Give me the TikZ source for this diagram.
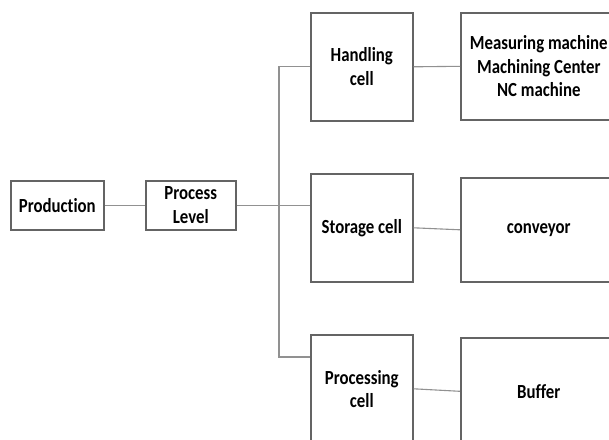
\documentclass[tikz,border=0pt]{standalone}
\usepackage{fontspec}
\newfontfamily\boxfont{Carlito}[FakeStretch=0.84,Ligatures=NoCommon]
\usetikzlibrary{positioning}
\definecolor{frame}{RGB}{100,100,100}
\definecolor{wire}{RGB}{145,145,145}
\tikzset{
  box/.style={draw=frame,line width=1.6pt,inner sep=0pt,anchor=north west,align=center,
    font=\boxfont\bfseries\fontsize{20}{23.5}\selectfont},
  link/.style={draw=wire,line width=1.1pt}
}

\begin{document}
\begin{tikzpicture}[x=1pt,y=-1pt]
        \useasboundingbox (0,0) rectangle (609,439);
        \clip (0,0) rectangle (609,439);
        \node[box,minimum width=93pt,minimum height=49pt] (prod) at (10,180) {Production};
        \node[box,minimum width=90pt,minimum height=49pt] (level) at (145,180) {Process\\Level};
        \foreach \name/\txt/\cy/\mach/\mtxt/\my/\mh [count=\i from 0] in {
          handling/Handling\\cell/12/measuring/Measuring machine\\Machining Center\\NC machine/12/107,
          storage/Storage cell/173/conveyor/conveyor/177/104,
          processing/Processing\\cell/334/buffer/Buffer/337/107}{
          \node[box,minimum width=102pt,minimum height=108pt] (\name) at (310,\cy) {\txt};
          \node[box,minimum width=156pt,minimum height=\mh pt] (\mach) at (460,\my) {\mtxt};
          \draw[link] (\name.east) -- (\mach.west);
        }
        \coordinate (bus) at (279,0);
        \coordinate (pjoin) at (310,357);
        \draw[link] (prod) -- (level);
        \draw[link] (level.east) -- (level.east -| storage.west);
        \draw[link] (handling.west) -| (pjoin -| bus) -- (pjoin);
      \end{tikzpicture}
\end{document}
